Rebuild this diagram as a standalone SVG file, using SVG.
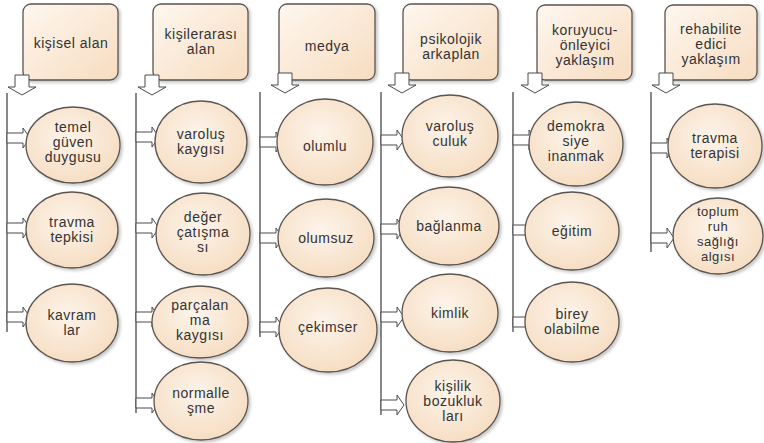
<svg xmlns="http://www.w3.org/2000/svg" width="764" height="443" viewBox="0 0 764 443">
<defs>
<linearGradient id="gBox" x1="0" y1="0" x2="1" y2="1">
<stop offset="0" stop-color="#fef7ef"/>
<stop offset="1" stop-color="#f7dcc0"/>
</linearGradient>
<radialGradient id="gEl" cx="0.45" cy="0.4" r="0.7">
<stop offset="0" stop-color="#fdf4ea"/>
<stop offset="1" stop-color="#f5dabd"/>
</radialGradient>
<filter id="sh" x="-20%" y="-20%" width="150%" height="150%">
<feDropShadow dx="2" dy="2" stdDeviation="1.8" flood-color="#000" flood-opacity="0.22"/>
</filter>
<path id="dArrow" d="M-7,-20 L7,-20 L7,-8 L14,-8 L0,0 L-14,-8 L-7,-8 Z"/>
<path id="hArrow" d="M0,-5 L16,-5 L16,-10 L23,0 L16,10 L16,5 L0,5 Z"/>
</defs>
<style>
.box{fill:url(#gBox);stroke:#5a5450;stroke-width:1.3;filter:url(#sh)}
.el{fill:url(#gEl);stroke:#5a5450;stroke-width:1.3;filter:url(#sh)}
.arr{fill:#fff;stroke:#4a4a4a;stroke-width:1}
.ln{stroke:#3a3a3a;stroke-width:1.2;fill:none}
text{font-family:"Liberation Sans",Arial,sans-serif;font-size:14px;letter-spacing:0.5px;fill:#333;text-anchor:middle}
.sm{font-size:13px}
</style>

<g id="connectors">
<line class="ln" x1="7" y1="93" x2="7" y2="332"/>
<line class="ln" x1="136" y1="93" x2="136" y2="413"/>
<line class="ln" x1="260" y1="92" x2="260" y2="337"/>
<line class="ln" x1="381" y1="92" x2="381" y2="415"/>
<line class="ln" x1="513" y1="92" x2="513" y2="332"/>
<line class="ln" x1="651" y1="92" x2="651" y2="252"/>
<use class="arr" href="#hArrow" x="7" y="138"/>
<use class="arr" href="#hArrow" x="7" y="228"/>
<use class="arr" href="#hArrow" x="7" y="317"/>
<use class="arr" href="#hArrow" x="136" y="137"/>
<use class="arr" href="#hArrow" x="136" y="228"/>
<use class="arr" href="#hArrow" x="136" y="317"/>
<use class="arr" href="#hArrow" x="136" y="403"/>
<use class="arr" href="#hArrow" x="260" y="142"/>
<use class="arr" href="#hArrow" x="260" y="238"/>
<use class="arr" href="#hArrow" x="260" y="327"/>
<use class="arr" href="#hArrow" x="381" y="140"/>
<use class="arr" href="#hArrow" x="381" y="229"/>
<use class="arr" href="#hArrow" x="381" y="317"/>
<use class="arr" href="#hArrow" x="381" y="405"/>
<use class="arr" href="#hArrow" x="513" y="140"/>
<use class="arr" href="#hArrow" x="513" y="230"/>
<use class="arr" href="#hArrow" x="513" y="322"/>
<use class="arr" href="#hArrow" x="651" y="148"/>
<use class="arr" href="#hArrow" x="651" y="238"/>
</g>

<g id="box1"><rect class="box" x="23" y="4" width="95" height="76" rx="8"/><text x="71" y="48">kişisel alan</text></g>
<g id="box2"><rect class="box" x="153" y="4" width="95" height="76" rx="8"/><text x="201" y="39">kişilerarası</text><text x="201" y="54">alan</text></g>
<g id="box3"><rect class="box" x="279" y="4" width="96" height="76" rx="8"/><text x="327" y="51">medya</text></g>
<g id="box4"><rect class="box" x="403" y="4" width="95" height="76" rx="8"/><text x="451" y="44">psikolojik</text><text x="451" y="59">arkaplan</text></g>
<g id="box5"><rect class="box" x="537" y="5" width="95" height="75" rx="8"/><text x="585" y="35">koruyucu-</text><text x="585" y="50">önleyici</text><text x="585" y="65">yaklaşım</text></g>
<g id="box6"><rect class="box" x="665" y="5" width="92" height="75" rx="8"/><text x="711" y="34">rehabilite</text><text x="711" y="49">edici</text><text x="711" y="64">yaklaşım</text></g>

<g id="downarrows">
<use class="arr" href="#dArrow" x="22" y="95"/>
<use class="arr" href="#dArrow" x="152" y="95"/>
<use class="arr" href="#dArrow" x="285" y="93"/>
<use class="arr" href="#dArrow" x="402" y="93"/>
<use class="arr" href="#dArrow" x="535" y="93"/>
<use class="arr" href="#dArrow" x="666" y="93"/>
</g>

<g id="n-temel"><ellipse class="el" cx="73" cy="145" rx="47" ry="38"/><text x="73" y="132">temel</text><text x="73" y="147">güven</text><text x="73" y="162">duygusu</text></g>
<g id="n-travma-tepkisi"><ellipse class="el" cx="72" cy="230" rx="46" ry="38"/><text x="72" y="227">travma</text><text x="72" y="242">tepkisi</text></g>
<g id="n-kavramlar"><ellipse class="el" cx="72" cy="323" rx="46" ry="39"/><text x="72" y="320">kavram</text><text x="72" y="335">lar</text></g>

<g id="n-varolus-kaygisi"><ellipse class="el" cx="201" cy="142" rx="46" ry="41"/><text x="201" y="139">varoluş</text><text x="201" y="154">kaygısı</text></g>
<g id="n-deger"><ellipse class="el" cx="203" cy="234" rx="47" ry="41"/><text x="203" y="222">değer</text><text x="203" y="237">çatışma</text><text x="203" y="252">sı</text></g>
<g id="n-parcalanma"><ellipse class="el" cx="200" cy="322" rx="48" ry="36"/><text x="200" y="310">parçalan</text><text x="200" y="325">ma</text><text x="200" y="340">kaygısı</text></g>
<g id="n-normallesme"><ellipse class="el" cx="201" cy="401" rx="47" ry="39"/><text x="201" y="398">normalle</text><text x="201" y="413">şme</text></g>

<g id="n-olumlu"><ellipse class="el" cx="325" cy="142" rx="48" ry="43"/><text x="325" y="151">olumlu</text></g>
<g id="n-olumsuz"><ellipse class="el" cx="326" cy="238" rx="48" ry="39"/><text x="326" y="243">olumsuz</text></g>
<g id="n-cekimser"><ellipse class="el" cx="328" cy="330" rx="49" ry="42"/><text x="328" y="332">çekimser</text></g>

<g id="n-varolusculuk"><ellipse class="el" cx="450" cy="136" rx="48" ry="41"/><text x="450" y="131">varoluş</text><text x="450" y="146">culuk</text></g>
<g id="n-baglanma"><ellipse class="el" cx="449" cy="226" rx="50" ry="39"/><text x="449" y="231">bağlanma</text></g>
<g id="n-kimlik"><ellipse class="el" cx="450" cy="313" rx="48" ry="39"/><text x="450" y="318">kimlik</text></g>
<g id="n-kisilik"><ellipse class="el" cx="453" cy="401" rx="47" ry="41"/><text x="453" y="391">kişilik</text><text x="453" y="406">bozukluk</text><text x="453" y="421">ları</text></g>

<g id="n-demokrasi"><ellipse class="el" cx="576" cy="144" rx="47" ry="42"/><text x="576" y="131">demokra</text><text x="576" y="146">siye</text><text x="576" y="161">inanmak</text></g>
<g id="n-egitim"><ellipse class="el" cx="572" cy="231" rx="47" ry="39"/><text x="572" y="236">eğitim</text></g>
<g id="n-birey"><ellipse class="el" cx="572" cy="322" rx="47" ry="40"/><text x="572" y="319">birey</text><text x="572" y="334">olabilme</text></g>

<g id="n-travma-terapisi"><ellipse class="el" cx="715" cy="146" rx="47" ry="42"/><text x="715" y="143">travma</text><text x="715" y="158">terapisi</text></g>
<g id="n-toplum"><ellipse class="el" cx="718" cy="236" rx="45" ry="38"/><text class="sm" x="718" y="216">toplum</text><text class="sm" x="718" y="231">ruh</text><text class="sm" x="718" y="246">sağlığı</text><text class="sm" x="718" y="261">algısı</text></g>
</svg>
